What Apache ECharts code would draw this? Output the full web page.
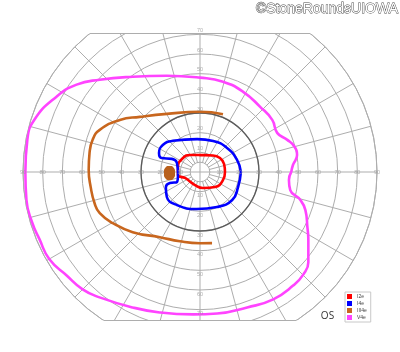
<!DOCTYPE html>
<html><head><meta charset="utf-8">
<script src="https://cdn.jsdelivr.net/npm/echarts@6/dist/echarts.min.js"></script>
<style>html,body{margin:0;padding:0;background:#fff}#c{width:400px;height:352px}</style>
</head><body><div id="c"></div>
<script>
// ---- data (angle in degrees, counter-clockwise from right; radius in degrees of field) ----
const seriesNames = ['I2e', 'I4e', 'III4e', 'V4e'];
const seriesColors = ['#ff0000', '#0000ff', '#c8661e', '#ff44ff'];

const i2eAngle  = [0, 18.4, 35, 51.8, 90, 120, 140.5, 167, 187.8, 201.8, 249, 280.6, 315, 341, 360];
const i2eRadius = [12.7, 12.9, 12.4, 10.7, 8.6, 10.0, 11.2, 11.5, 11.3, 8.2, 7.1, 8.3, 10.8, 12.4, 12.7];

const i4eAngle  = [0, 18, 41.6, 67, 95, 131, 144, 155, 160, 155, 158.6, 183, 203.5, 200, 204, 217, 235, 265, 296, 319, 338.5, 360];
const i4eRadius = [20.8, 19.8, 18.4, 17.1, 16.8, 21, 23.4, 23, 20.7, 15.8, 12.6, 11.2, 12.8, 16.3, 19, 21.1, 20.5, 18.9, 19.8, 21.7, 20.8, 20.8];

const iii4eAngle  = [68.3, 90, 119.6, 137.5, 147, 157.2, 163.3, 170.2, 179, 188, 196.5, 202.3, 210.4, 221.8, 238.4, 253.8, 270, 279.6];
const iii4eRadius = [31.6, 30.6, 34, 41.5, 48.6, 55.3, 57, 57, 56.6, 56.1, 55.9, 55.1, 51.4, 45.9, 38.9, 36.7, 36.2, 36.7];

const blindAngle  = [182.3, 170.4, 168.9, 172.6, 181.6, 190.7, 194.7, 193.8];
const blindRadius = [12.72, 13.67, 15.8, 17.69, 18.31, 17.85, 16.03, 13.87];

const v4eAngle  = [0, 4.3, 9.9, 15.5, 20.2, 26.9, 35.8, 47.3, 61.7, 75.7, 90, 109, 125.2, 137.4, 144.7, 152.3, 162.5, 169.5, 180, 189.2, 197, 202.7, 210.1, 217.8, 225, 231.3, 243.6, 254, 267.2, 276.9, 289.2, 299.9, 309.5, 315.3, 320.2, 327.8, 332.8, 340.1, 344.4, 348.7, 354.9, 360];
const v4eRadius = [46.4, 47.4, 50.1, 49.6, 47.3, 44, 45.3, 45.1, 46.3, 47.4, 48, 51.8, 59.3, 69.3, 76.9, 82.4, 88.3, 89.3, 88.8, 89.4, 89.1, 88.5, 88.5, 85.8, 84.4, 81.7, 76.9, 74.3, 72.5, 72.5, 72.9, 74.7, 74.7, 74, 71.7, 65.1, 61.4, 57, 53, 46.8, 45.4, 46.4];

const hRingValues = [10, 20, 30, 40, 50, 60, 70, 80, 90];
const hRingLabels = ['10', '20', '30', '40', '50', '60', '70', '80', '90'];
const vRingValues = [10, 20, 30, 40, 50, 60, 70];
const vRingLabels = ['10', '20', '30', '40', '50', '60', '70'];

const titleText = '©StoneRoundsUIOWA';
const eyeText = 'OS';

// ---- layout ----
const cx = 200, cy = 172, R = 177, k = R / 90;
const topY = 33.5, botY = 320.5;
const gridColor = '#adadad';
function halfWidth(y) { const d = cy - y; return Math.sqrt(R * R - d * d); }
function zip(rs, as) { return rs.map((r, i) => [r, as[i]]); }

const labelData = [];
hRingValues.forEach((r, i) => {
  labelData.push({ name: hRingLabels[i], value: [r, 0] });
  labelData.push({ name: hRingLabels[i], value: [r, 180] });
});
vRingValues.forEach((r, i) => {
  labelData.push({ name: vRingLabels[i], value: [r, 90], label: { offset: [0, -4] } });
  labelData.push({ name: vRingLabels[i], value: [r, 270], label: { offset: [0, 4] } });
});

const curves = [zip(i2eRadius, i2eAngle), zip(i4eRadius, i4eAngle), zip(iii4eRadius, iii4eAngle), zip(v4eRadius, v4eAngle)];

const chart = echarts.init(document.getElementById('c'), null, { renderer: 'canvas' });
const option = {
  animation: false,
  backgroundColor: '#fff',
  polar: { center: [cx, cy], radius: R },
  angleAxis: {
    type: 'value', min: 0, max: 360, interval: 15, startAngle: 0, clockwise: false,
    axisLine: { show: true, lineStyle: { color: gridColor, width: 1 } },
    axisTick: { show: false }, axisLabel: { show: false },
    splitLine: { show: true, lineStyle: { color: gridColor, width: 1 } }
  },
  radiusAxis: {
    type: 'value', min: 0, max: 90, interval: 10,
    axisLine: { show: false }, axisTick: { show: false }, axisLabel: { show: false },
    splitLine: { show: true, lineStyle: { color: gridColor, width: 1 } }
  },
  legend: {
    data: seriesNames.map(n => ({ name: n, icon: 'rect' })),
    orient: 'vertical', left: 345, top: 292,
    itemWidth: 5, itemHeight: 5, itemGap: 2,
    padding: [2, 4, 2, 2],
    borderColor: '#c8c8c8', borderWidth: 1,
    textStyle: { fontSize: 5, color: '#444', fontFamily: 'Liberation Sans' },
    selectedMode: false
  },
  graphic: [
    { type: 'rect', z: 1, shape: { x: 0, y: 0, width: 400, height: topY }, style: { fill: '#fff' } },
    { type: 'rect', z: 1, shape: { x: 0, y: botY, width: 400, height: 352 - botY }, style: { fill: '#fff' } },
    { type: 'line', z: 1, shape: { x1: cx - halfWidth(topY), y1: topY, x2: cx + halfWidth(topY), y2: topY }, style: { stroke: gridColor, lineWidth: 1 } },
    { type: 'line', z: 1, shape: { x1: cx - halfWidth(botY), y1: botY, x2: cx + halfWidth(botY), y2: botY }, style: { stroke: gridColor, lineWidth: 1 } },
    { type: 'circle', z: 1, shape: { cx: cx, cy: cy, r: 5 * k }, style: { fill: '#fff', stroke: gridColor, lineWidth: 1 } },
    { type: 'line', z: 1, shape: { x1: cx - 5 * k, y1: cy, x2: cx + 5 * k, y2: cy }, style: { stroke: gridColor, lineWidth: 1 } },
    { type: 'line', z: 1, shape: { x1: cx, y1: cy - 5 * k, x2: cx, y2: cy + 5 * k }, style: { stroke: gridColor, lineWidth: 1 } },
    { type: 'circle', z: 1, shape: { cx: cx, cy: cy, r: 30 * k }, style: { fill: 'none', stroke: '#5a5a5a', lineWidth: 1.3 } },
    { type: 'text', z: 20, x: 398, y: 9, style: { text: titleText, font: '14px "Liberation Sans", Arial, sans-serif', fill: '#fff', stroke: '#444', lineWidth: 0.9, align: 'right', verticalAlign: 'middle' } },
    { type: 'text', z: 20, x: 327.5, y: 316, style: { text: eyeText, font: '10px "Open Sans", sans-serif', fill: '#333', align: 'center', verticalAlign: 'middle' } }
  ],
  series: [
    ...curves.map((d, i) => ({
      type: 'line', name: seriesNames[i], coordinateSystem: 'polar', data: d,
      smooth: 0.5, symbol: 'none', z: 5, silent: true,
      lineStyle: { color: seriesColors[i], width: 2.6 },
      itemStyle: { color: seriesColors[i] }
    })),
    {
      type: 'custom', coordinateSystem: 'polar', z: 5, silent: true,
      data: zip(blindRadius, blindAngle),
      renderItem: function (params, api) {
        if (params.dataIndex !== 0) return null;
        const pts = blindRadius.map((r, i) => api.coord([r, blindAngle[i]]));
        return { type: 'polygon', shape: { points: pts, smooth: 0.6 }, style: { fill: '#b8601c' } };
      }
    },
    {
      type: 'scatter', coordinateSystem: 'polar', z: 6, silent: true,
      data: labelData, symbolSize: 1, itemStyle: { color: 'rgba(0,0,0,0)' },
      label: { show: true, position: 'inside', formatter: '{b}', fontSize: 5.5, color: '#9a9a9a', fontFamily: 'Liberation Sans' }
    }
  ]
};
chart.setOption(option);
</script>
</body></html>
